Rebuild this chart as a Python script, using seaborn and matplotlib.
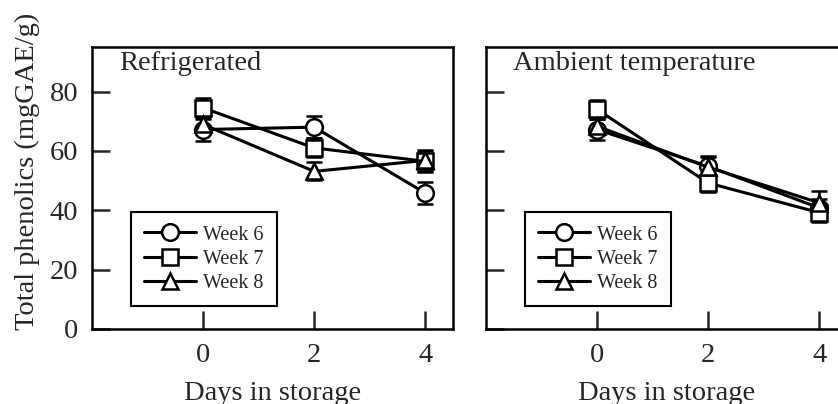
#!/usr/bin/env python3

import pandas as pd
import seaborn as sns
from matplotlib import pyplot as plt

days = [0, 2, 4]
weeks = ["Week 6", "Week 7", "Week 8"]

refrig_w6 = [67.2, 68.0, 45.8]
refrig_w7 = [74.5, 61.0, 56.5]
refrig_w8 = [68.9, 53.1, 56.8]
refrig_w6_err = [3.7, 3.8, 3.6]
refrig_w7_err = [3.4, 3.2, 3.5]
refrig_w8_err = [3.0, 3.0, 3.5]

ambient_w6 = [67.2, 54.8, 40.8]
ambient_w7 = [74.0, 49.2, 39.2]
ambient_w8 = [68.3, 54.5, 42.5]
ambient_w6_err = [3.5, 3.5, 3.0]
ambient_w7_err = [3.2, 3.0, 3.0]
ambient_w8_err = [3.0, 3.4, 4.0]

panel_titles = ["Refrigerated", "Ambient temperature"]
yticks = [0, 20, 40, 60, 80]

FS = 20.5


def to_frame(series, errors):
    rows = []
    for week, vals, errs in zip(weeks, series, errors):
        for d, v, e in zip(days, vals, errs):
            rows.append({"day": d, "value": v, "err": e, "week": week})
    return pd.DataFrame(rows)


def draw_panel(ax, data, title):
    for week in weeks:
        sub = data[data["week"] == week]
        ax.errorbar(sub["day"], sub["value"], yerr=sub["err"], fmt="none",
                    ecolor="black", elinewidth=1.8, capsize=6, capthick=1.8, zorder=1)
    sns.lineplot(data, x="day", y="value", hue="week", style="week",
                 hue_order=weeks, style_order=weeks,
                 palette=["black"] * 3, markers={"Week 6": "o", "Week 7": "s", "Week 8": "^"},
                 dashes=False, linewidth=2.2, markersize=12, markerfacecolor="white",
                 markeredgecolor="black", markeredgewidth=1.8, ax=ax, zorder=2)

    ax.set_xlim(-2, 4.5)
    ax.set_ylim(0, 95)
    ax.set_xticks(days)
    ax.set_yticks(yticks)
    ax.tick_params(direction="in", length=13, width=1.8, labelsize=FS, pad=10)
    for s in ax.spines.values():
        s.set_visible(True)
        s.set_linewidth(1.8)
        s.set_color("black")
    ax.set_xlabel("Days in storage", fontsize=FS)
    ax.xaxis.set_label_coords(0.5, -0.185)
    ax.text(0.075, 0.94, title, transform=ax.transAxes, fontsize=FS, va="center", ha="left")

    handles, labels = ax.get_legend_handles_labels()
    leg = ax.legend(handles, labels, loc="lower left", bbox_to_anchor=(0.107, 0.082),
                    fontsize=14.5, frameon=True, fancybox=False, edgecolor="black",
                    handlelength=2.6, handletextpad=0.35, labelspacing=0.25,
                    borderpad=0.65, borderaxespad=0, title=None)
    leg.get_frame().set_linewidth(1.5)
    leg.get_frame().set_alpha(1)


def main():
    refrig = to_frame([refrig_w6, refrig_w7, refrig_w8],
                      [refrig_w6_err, refrig_w7_err, refrig_w8_err])
    ambient = to_frame([ambient_w6, ambient_w7, ambient_w8],
                       [ambient_w6_err, ambient_w7_err, ambient_w8_err])

    sns.set_style("ticks")
    plt.rcParams["font.family"] = ["Liberation Serif", "DejaVu Serif"]

    fig = plt.figure(figsize=(8.38, 4.04), dpi=100)
    ax1 = fig.add_axes([92 / 838, 75 / 404, 361 / 838, 282 / 404])
    ax2 = fig.add_axes([486 / 838, 75 / 404, 361 / 838, 282 / 404])

    draw_panel(ax1, refrig, panel_titles[0])
    draw_panel(ax2, ambient, panel_titles[1])

    ax1.set_ylabel("Total phenolics (mgGAE/g)", fontsize=FS)
    ax1.yaxis.set_label_coords(-0.145, 0.56)
    ax2.set_ylabel("")
    ax2.tick_params(labelleft=False)

    fig.savefig("out.png", dpi=100)
    plt.close(fig)


if __name__ == '__main__':
    main()
